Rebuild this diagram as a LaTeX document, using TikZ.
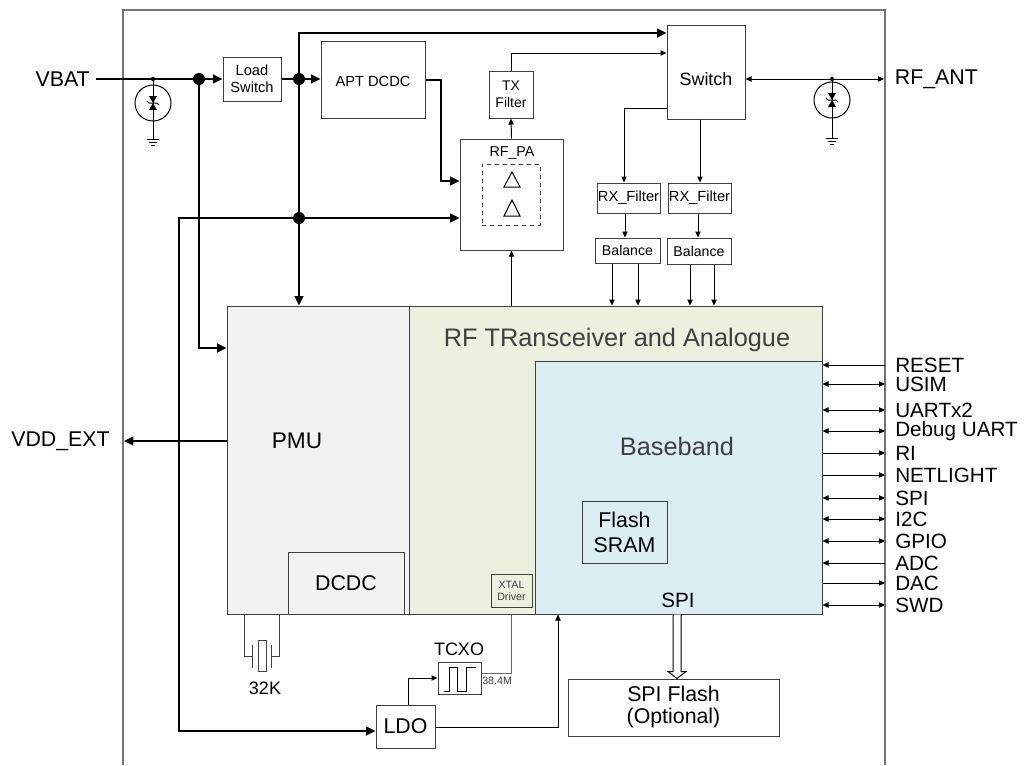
\documentclass[tikz,border=0pt]{standalone}
\usepackage{fontspec}
\setmainfont{Liberation Sans}
\usetikzlibrary{arrows.meta,fit,calc}
\definecolor{pmugray}{HTML}{F2F2F2}
\definecolor{rfgreen}{HTML}{EBF1DE}
\definecolor{bbblue}{HTML}{DAEEF3}
\definecolor{lineg}{HTML}{404040}
\newcommand\tvssym[4]{%
  \fill (#1,#2) circle[radius=1.6pt];
  \draw[thn] (#1,#2) -- (#1,#4);
  \draw[thn] (#1,#3) circle[radius=13.5pt];
  \fill (#1-4,#3-7) -- (#1+4,#3-7) -- (#1,#3) -- cycle;
  \fill (#1-4,#3+7) -- (#1+4,#3+7) -- (#1,#3) -- cycle;
  \draw[thn] (#1-6,#3-2) -- (#1-4,#3) -- (#1+4,#3) -- (#1+6,#3+2);
  \draw[thn] (#1-6,#4) -- (#1+6,#4) (#1-4,#4+3) -- (#1+4,#4+3) (#1-2,#4+6) -- (#1+2,#4+6);
}
\begin{document}
\begin{tikzpicture}[x=0.75pt,y=-0.75pt,
  box/.style={draw=lineg, line width=0.75pt, inner sep=0pt},
  txt/.style={align=center, inner sep=0pt},
  thk/.style={line width=1.5pt},
  thn/.style={line width=0.75pt},
  tk/.style={-{Triangle[length=7pt,width=6.5pt]}},
  tn/.style={-{Triangle[length=4.5pt,width=4pt]}},
  tnb/.style={{Triangle[length=4.5pt,width=4pt]}-{Triangle[length=4.5pt,width=4pt]}},
  tnl/.style={{Triangle[length=4.5pt,width=4pt]}-},
  dot/.style={circle, fill, inner sep=0pt, minimum size=9pt},
  sig/.style={anchor=west, inner xsep=7.5pt, inner ysep=0pt, font=\fontsize{15.5}{15.5}\selectfont}
]
\useasboundingbox (0,0) rectangle (1029,765);

% outer module outline
\draw[draw=black!55, line width=0.9pt] (123,765) -- (123,10) -- (885,10) -- (885,765);

% main blocks
\node[box, fill=pmugray, fit={(227,306) (409,614)}] (pmu) {};
\node[box, fill=rfgreen, fit={(409,306) (822,614)}] (rft) {};
\node[box, fill=bbblue, fit={(535,361) (822,614)}] (bb) {};
\node[box, fill=pmugray, fit={(288,552) (404,614)}] (dcdc) {};
\node[txt, font=\fontsize{16}{16}\selectfont] (dcdct) at (dcdc.center) {DCDC};
\node[box, fit={(582,501) (667,563)}] (fsram) {};
\node[txt, font=\fontsize{16}{18.75}\selectfont] (fsramt) at (fsram.center) {Flash\\SRAM};
\node[box, fill=rfgreen, fit={(491,574) (532,607)}] (xtal) {};
\node[txt, font=\fontsize{8}{9}\selectfont, text=lineg] (xtalt) at (xtal.center) {XTAL\\Driver};
\node[txt, font=\fontsize{17}{17}\selectfont] (pmulbl) at (297,441) {PMU};
\node[txt, font=\fontsize{19}{19}\selectfont, text=lineg] (rftlbl) at (617,340) {RF TRansceiver and Analogue};
\node[txt, font=\fontsize{19}{19}\selectfont, text=lineg] (bblbl) at (677,446) {Baseband};
\node[txt, font=\fontsize{15.5}{15.5}\selectfont] (spilbl) at (678,600) {SPI};

% top chain
\node[anchor=east, inner xsep=4.5pt, font=\fontsize{16}{16}\selectfont] (vbat) at (96,79) {VBAT};
\node[box, fit={(223,57) (281,101)}] (lsw) {};
\node[txt, font=\fontsize{11}{12.75}\selectfont] (lswt) at (lsw.center) {Load\\Switch};
\node[box, fit={(321,41) (425,118)}] (apt) {};
\node[txt, font=\fontsize{11}{11}\selectfont] (aptt) at ($(apt.center)+(0,2)$) {APT DCDC};
\node[box, fit={(489,71) (533,118)}] (txf) {};
\node[txt, font=\fontsize{10.5}{12.75}\selectfont] (txft) at (txf.center) {TX\\Filter};
\node[box, fit={(460,139) (563,250)}] (pa) {};
\node[txt, font=\fontsize{10.7}{10.7}\selectfont] (palbl) at (512,153) {RF\_PA};
\node[draw=lineg, dashed, line width=0.75pt, inner sep=0pt, fit={(482,164) (540,225)}] (pain) {};
\draw[thn] (512,172) -- (504,187) -- (520,187) -- cycle;
\draw[thn] (512,200) -- (504,216) -- (520,216) -- cycle;
\node[box, fit={(667,25) (745,119)}] (sw) {};
\node[txt, font=\fontsize{13.4}{13.4}\selectfont] (swlbl) at (706,79) {Switch};
\node[box, fit={(597,183) (660,213)}] (rx1) {};
\node[txt, font=\fontsize{11}{11}\selectfont] (rx1t) at (rx1.center) {RX\_Filter};
\node[box, fit={(668,183) (731,213)}] (rx2) {};
\node[txt, font=\fontsize{11}{11}\selectfont] (rx2t) at (rx2.center) {RX\_Filter};
\node[box, fit={(595,238) (660,263)}] (bal1) {};
\node[txt, font=\fontsize{10.6}{10.6}\selectfont] (bal1t) at (bal1.center) {Balance};
\node[box, fit={(667,238) (731,264)}] (bal2) {};
\node[txt, font=\fontsize{10.6}{10.6}\selectfont] (bal2t) at (bal2.center) {Balance};
\node[sig, font=\fontsize{16}{16}\selectfont, inner xsep=8pt] (ant) at (884,79) {RF\_ANT};
\node[anchor=east, inner xsep=10.5pt, font=\fontsize{16}{16}\selectfont] (vdd) at (124,441) {VDD\_EXT};

% bottom parts
\node[box, fit={(438,662) (481,694)}] (tcxo) {};
\node[txt, font=\fontsize{13.5}{13.5}\selectfont] (tcxolbl) at (459,649) {TCXO};
\node[anchor=west, inner sep=0pt, font=\fontsize{8}{8}\selectfont, text=lineg] (freq) at (482,681) {38.4M};
\node[box, fit={(376,705) (435,748)}] (ldo) {};
\node[txt, font=\fontsize{16}{16}\selectfont] (ldot) at (ldo.center) {LDO};
\node[box, fit={(568,679) (779,736)}] (spif) {};
\node[txt, font=\fontsize{16}{16.5}\selectfont] (spift) at ($(spif.center)+(0,-1)$) {SPI Flash\\(Optional)};
\node[txt, font=\fontsize{13.5}{13.5}\selectfont] (k32) at (265,688) {32K};

% junctions
\node[dot] (j1) at (199,79) {};
\node[dot] (j2) at (299,79) {};
\node[dot] (j3) at (299,218) {};

% thick power lines
\draw[thk,tk] (vbat.east) -- (lsw.west);
\draw[thk,tk] (lsw.east) -- (apt.west |- lsw.east);
\draw[thk,tk] (j2) |- (sw.west |- 0,33);
\draw[thk,tk] (j1) |- (pmu.west |- 0,348);
\draw[thk] (j2) -- (j3);
\draw[thk,tk] (j3) -- (j3 |- pmu.north);
\draw[thk,tk] (j3) -- (pa.west |- j3);
\draw[thk,tk] (j3) -| (179,731) -- (ldo.west |- 0,731);
\draw[thk,tk] (apt.east) -| (441,181) -- (pa.west |- 0,181);
\draw[thk,tk] (pmu.west |- vdd.east) -- (vdd.east);

% RF signal lines
\draw[thn,tn] (pa.north) -- (txf.south);
\draw[thn,tn] (txf.north) |- (sw.west |- 0,53);
\draw[thn,tn] (pa.south |- rft.north) -- (pa.south);
\draw[thn,tn] (sw.west |- 0,108) -| (rx1.north -| 624,0);
\draw[thn,tn] (sw.south -| 700,0) -- (rx2.north -| 700,0);
\draw[thn,tn] (rx1.south -| 625,0) -- (bal1.north -| 625,0);
\draw[thn,tn] (rx2.south -| 698,0) -- (bal2.north -| 698,0);
\foreach \xx in {612,638} \draw[thn,tn] (bal1.south -| \xx,0) -- (rft.north -| \xx,0);
\foreach \xx in {690,714} \draw[thn,tn] (bal2.south -| \xx,0) -- (rft.north -| \xx,0);
\draw[thn,tnb] (sw.east |- ant.west) -- (ant.west);

% TVS diodes
\tvssym{153}{79}{103}{139}
\tvssym{832}{79}{100}{138}

% right-side interfaces
\foreach \yy/\tt in {365/RESET, 563/ADC} {
  \node[sig] (s\yy) at (885,\yy) {\tt};
  \draw[thn,tnl] (bb.east |- s\yy.west) -- (s\yy.west);
}
\foreach \yy/\tt in {384/USIM, 410/UARTx2, 431/Debug UART, 498/SPI, 519/I2C, 541/GPIO, 605/SWD} {
  \node[sig] (s\yy) at (885,\yy) {\tt};
  \draw[thn,tnb] (bb.east |- s\yy.west) -- (s\yy.west);
}
\foreach \yy/\tt in {453/RI, 475/NETLIGHT, 583/DAC} {
  \node[sig] (s\yy) at (885,\yy) {\tt};
  \draw[thn,tn] (bb.east |- s\yy.west) -- (s\yy.west);
}

% 32K crystal
\draw[thn, draw=lineg] (pmu.south -| 244,0) |- (252,656);
\draw[thn, draw=lineg] (pmu.south -| 279,0) |- (271,656);
\draw[thn, draw=lineg] (252,645) -- (252,668) (271,645) -- (271,668);
\draw[thn, draw=lineg] (258,640) rectangle (266,671);

% TCXO waveform and connections
\draw[thn] (444,691) -- (449,691) -- (449,667) -- (457,667) -- (457,691) -- (466,691) -- (466,667) -- (476,667);
\draw[thn,tn] (ldo.north -| 408,0) |- (tcxo.west);
\draw[thn, draw=black!60] (tcxo.east |- 0,673) -| (xtal.south |- rft.south);
\draw[thn,tn] (ldo.east |- 0,727) -| (bb.south -| 558,0);

% SPI hollow arrow
\coordinate (sa) at (bb.south -| 677,0);
\coordinate (sb) at (spif.north -| 677,0);
\draw[thn, fill=white] ($(sa)+(-4,0)$) -- ($(sb)+(-4,-7)$) -- ($(sb)+(-9,-7)$) -- (sb) -- ($(sb)+(9,-7)$) -- ($(sb)+(4,-7)$) -- ($(sa)+(4,0)$);
\end{tikzpicture}
\end{document}
